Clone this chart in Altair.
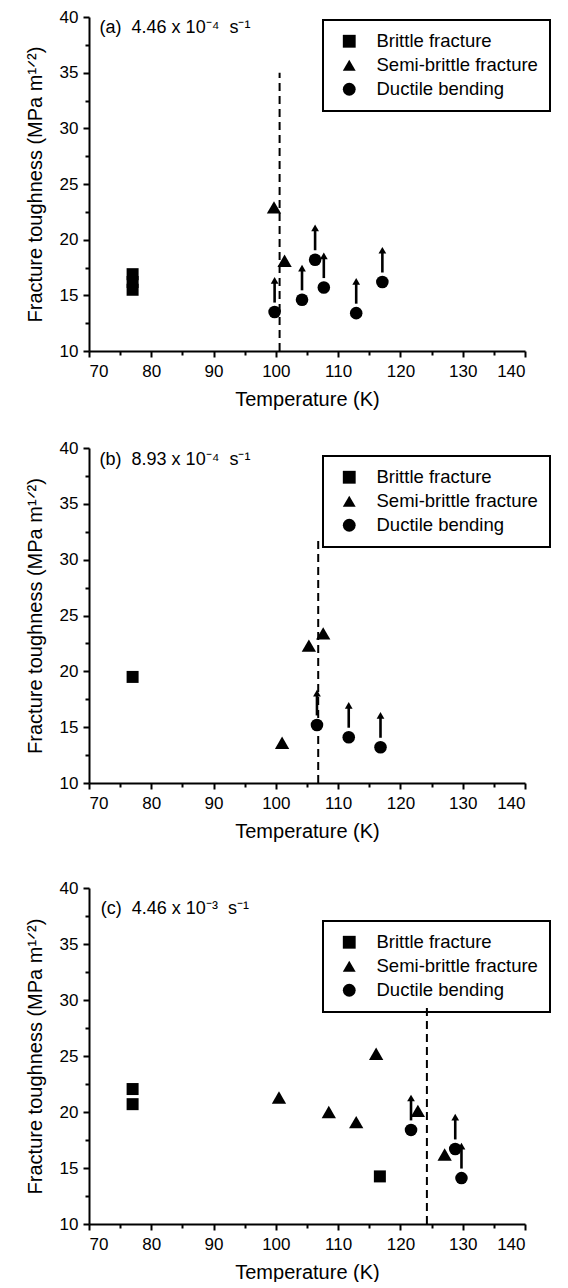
import altair as alt
import pandas as pd

FONT = "Liberation Sans"
TYPES = ["Brittle fracture", "Semi-brittle fracture", "Ductile bending"]
SHAPES = ["square", "triangle-up", "circle"]
MARK_SIZE = {"Brittle fracture": 144, "Semi-brittle fracture": 205, "Ductile bending": 158}

X_MAJOR = [70, 80, 90, 100, 110, 120, 130, 140]
X_MINOR = [75, 85, 95, 105, 115, 125, 135]
Y_MAJOR = [10, 15, 20, 25, 30, 35, 40]
Y_MINOR = [12.5, 17.5, 22.5, 27.5, 32.5, 37.5]

# ---- panel (a) 4.46 x 10^-4 s^-1
a_note = "(a)\u00a0 4.46 x 10\u207b\u2074\u00a0 s\u207b\u00b9"
a_brittle_T = [77, 77, 77]
a_brittle_K = [16.9, 16.2, 15.5]
a_semi_T = [99.7, 101.4]
a_semi_K = [22.9, 18.1]
a_duct_T = [99.8, 104.2, 106.3, 107.7, 112.9, 117.1]
a_duct_K = [13.5, 14.6, 18.2, 15.7, 13.4, 16.2]
a_bound_T = 100.6
a_bound_top = 35.0

# ---- panel (b) 8.93 x 10^-4 s^-1
b_note = "(b)\u00a0 8.93 x 10\u207b\u2074\u00a0 s\u207b\u00b9"
b_brittle_T = [77]
b_brittle_K = [19.5]
b_semi_T = [101.0, 105.3, 107.6]
b_semi_K = [13.6, 22.3, 23.4]
b_duct_T = [106.6, 111.7, 116.8]
b_duct_K = [15.2, 14.1, 13.2]
b_bound_T = 106.8
b_bound_top = 32.0

# ---- panel (c) 4.46 x 10^-3 s^-1
c_note = "(c)\u00a0 4.46 x 10\u207b\u00b3\u00a0 s\u207b\u00b9"
c_brittle_T = [77, 77, 116.7]
c_brittle_K = [22.05, 20.7, 14.25]
c_semi_T = [100.5, 108.5, 112.9, 116.1, 122.8, 127.1]
c_semi_K = [21.3, 20.0, 19.1, 25.2, 20.1, 16.2]
c_duct_T = [121.7, 128.8, 129.8]
c_duct_K = [18.4, 16.7, 14.1]
c_bound_T = 124.25
c_bound_top = 29.5

# arrow styling (offsets above each ductile point, in axis units)
ARROW_START = 0.85
ARROW_END = 2.7
ARROW_HEAD = 2.85


def make_panel(note, note_xy, bT, bK, sT, sK, dT, dK, bound_T, bound_top, legend_y, h):
    rows = []
    for t, k in zip(bT, bK):
        rows.append({"T": t, "K": k, "type": TYPES[0]})
    for t, k in zip(sT, sK):
        rows.append({"T": t, "K": k, "type": TYPES[1]})
    for t, k in zip(dT, dK):
        rows.append({"T": t, "K": k, "type": TYPES[2]})
    pts = pd.DataFrame(rows)
    pts["sz"] = pts["type"].map(MARK_SIZE)
    arrows = pd.DataFrame({
        "T": dT,
        "y0": [k + ARROW_START for k in dK],
        "y1": [k + ARROW_END for k in dK],
        "yh": [k + ARROW_HEAD for k in dK],
    })
    bound = pd.DataFrame({"T": [bound_T], "y0": [10.0], "y1": [bound_top]})
    notes = pd.DataFrame({"x": [note_xy[0]], "y": [note_xy[1]], "t": [note]})

    xs = alt.Scale(domain=[70, 140], nice=False, zero=False)
    ys = alt.Scale(domain=[10, 40], nice=False, zero=False)

    x_major = alt.Axis(values=X_MAJOR, orient="bottom", title="Temperature (K)",
                       tickSize=6, tickWidth=2, domainWidth=2, labelPadding=6,
                       titlePadding=10, labelFontSize=17, titleFontSize=20,
                       format="d")
    y_major = alt.Axis(values=Y_MAJOR, orient="left",
                       title="Fracture toughness (MPa m\u00b9\u141f\u00b2)",
                       tickSize=6, tickWidth=2, domainWidth=2, labelPadding=5,
                       titlePadding=14, labelFontSize=17, titleFontSize=20,
                       format="d")
    x_minor = alt.Axis(values=X_MINOR, orient="bottom", title=None, labels=False,
                       domain=False, tickSize=4, tickWidth=2)
    y_minor = alt.Axis(values=Y_MINOR, orient="left", title=None, labels=False,
                       domain=False, tickSize=4, tickWidth=2)

    leg = alt.Legend(title=None, orient="none", legendX=234, legendY=legend_y,
                     strokeColor="black", padding=12, symbolOffset=5,
                     labelOffset=18, rowPadding=5, labelFontSize=18.5,
                     labelFont=FONT, labelColor="black", labelLimit=400,
                     symbolSize=165, symbolFillColor="black",
                     symbolStrokeColor="black", symbolStrokeWidth=0,
                     symbolOpacity=1)

    points = alt.Chart(pts).mark_point(filled=True, color="black", opacity=1,
                                       strokeWidth=0).encode(
        x=alt.X("T:Q", scale=xs, axis=x_major),
        y=alt.Y("K:Q", scale=ys, axis=y_major),
        shape=alt.Shape("type:N", scale=alt.Scale(domain=TYPES, range=SHAPES), legend=leg),
        size=alt.Size("sz:Q", scale=None, legend=None),
    )
    boundary = alt.Chart(bound).mark_rule(color="black", strokeWidth=2,
                                          strokeDash=[8, 5]).encode(
        x=alt.X("T:Q", scale=xs, axis=x_minor),
        y=alt.Y("y0:Q", scale=ys, axis=y_minor),
        y2="y1:Q",
    )
    shafts = alt.Chart(arrows).mark_rule(color="black", strokeWidth=2.6).encode(
        x=alt.X("T:Q", scale=xs, axis=None),
        y=alt.Y("y0:Q", scale=ys, axis=None),
        y2="y1:Q",
    )
    heads = alt.Chart(arrows).mark_point(shape="triangle-up", filled=True, color="black",
                                         opacity=1, size=60, strokeWidth=0).encode(
        x=alt.X("T:Q", scale=xs, axis=None),
        y=alt.Y("yh:Q", scale=ys, axis=None),
    )
    text = alt.Chart(notes).mark_text(align="left", baseline="middle", fontSize=18,
                                      font=FONT, color="black").encode(
        x=alt.X("x:Q", scale=xs, axis=None),
        y=alt.Y("y:Q", scale=ys, axis=None),
        text="t:N",
    )
    return alt.layer(boundary, shafts, heads, points, text).resolve_axis(
        x="independent", y="independent"
    ).properties(width=436, height=h)


pa = make_panel(a_note, (71.7, 39.0), a_brittle_T, a_brittle_K, a_semi_T, a_semi_K,
                a_duct_T, a_duct_K, a_bound_T, a_bound_top, 3, 334)
pb = make_panel(b_note, (71.7, 38.9), b_brittle_T, b_brittle_K, b_semi_T, b_semi_K,
                b_duct_T, b_duct_K, b_bound_T, b_bound_top, 8, 335)
pc = make_panel(c_note, (71.9, 38.1), c_brittle_T, c_brittle_K, c_semi_T, c_semi_K,
                c_duct_T, c_duct_K, c_bound_T, c_bound_top, 33, 336)

top = alt.vconcat(pa, pb, spacing=30).resolve_scale(shape="independent")
chart = alt.vconcat(top, pc, spacing=38).resolve_scale(
    shape="independent"
).resolve_legend(shape="independent").properties(
    padding={"left": 17, "top": 0, "right": 0, "bottom": 0}
).configure_view(stroke=None).configure_axis(
    labelFont=FONT, titleFont=FONT, labelColor="black", titleColor="black",
    domainColor="black", tickColor="black", grid=False, titleFontWeight="normal"
).configure_legend(strokeWidth=2)

chart.save("out.html", embed_options={"renderer": "svg", "actions": False})
